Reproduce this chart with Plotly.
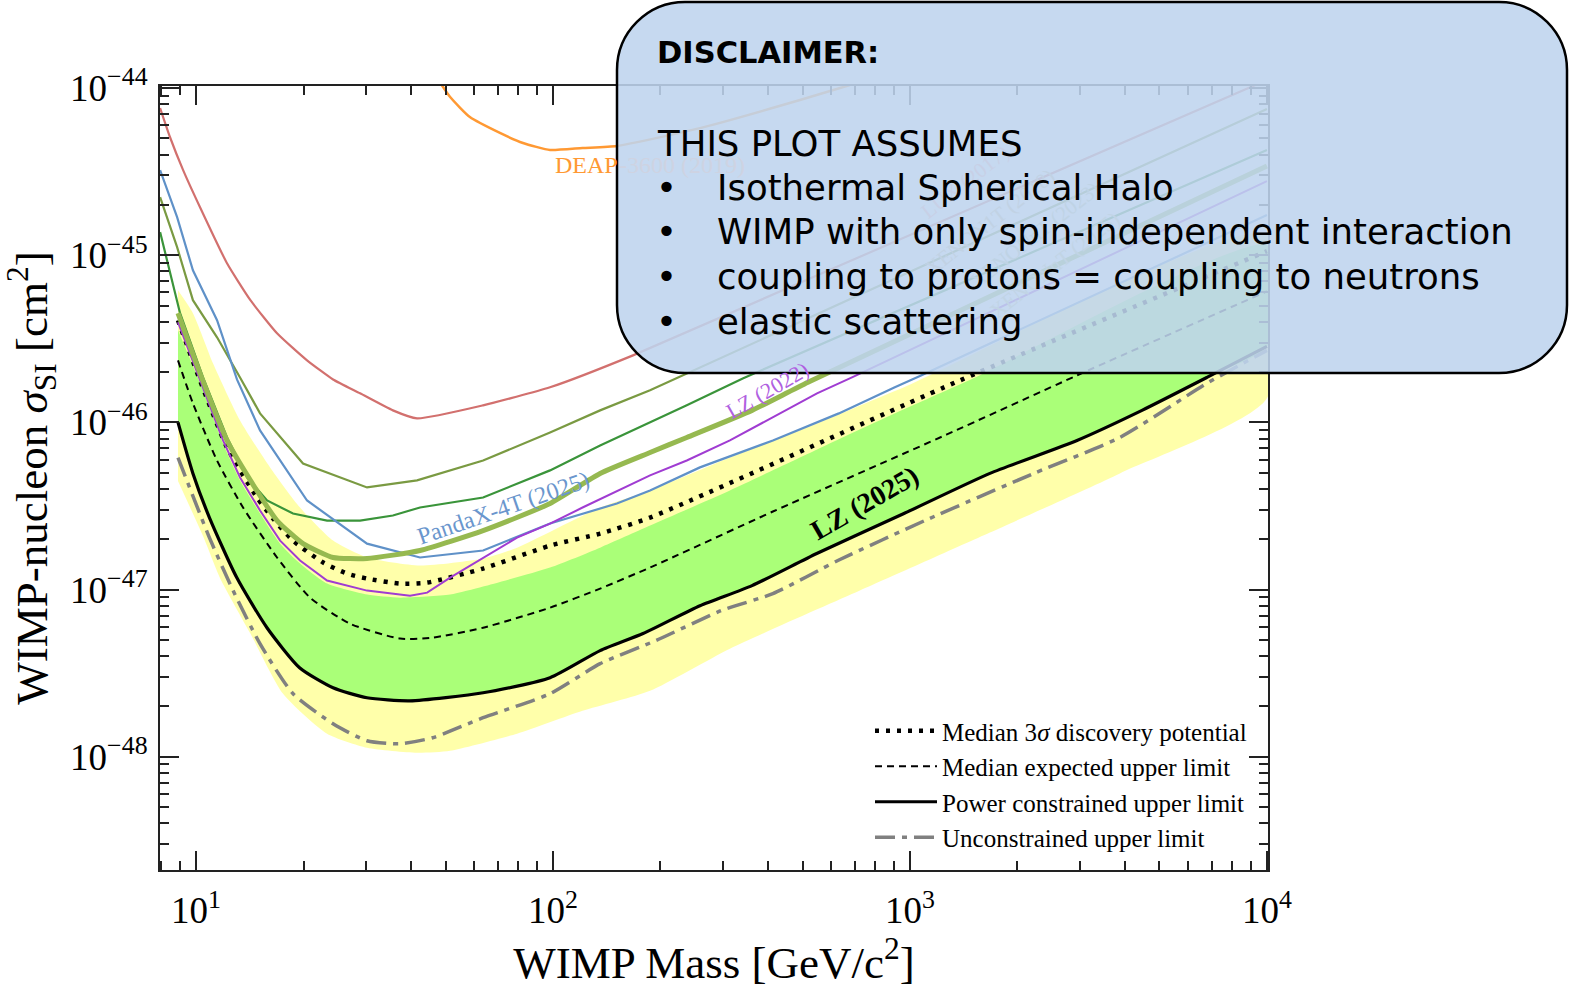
import numpy as np
import plotly.graph_objects as go

# ---------------- data (WIMP mass in GeV/c^2, cross section as log10(sigma/cm^2)) -------------
# LZ (2025) power constrained upper limit (solid black)
lz25_mass = [8.9, 9.8, 10.9, 13.0, 15.8, 19.5, 24.2, 30.1, 39.7, 63.7, 98.1, 135.5, 178.7, 258, 361, 548,
             962, 1675, 2937, 4467, 6792, 10000]
lz25_logsig = [-46.000, -46.305, -46.569, -46.928, -47.228, -47.467, -47.587, -47.647, -47.665, -47.617,
               -47.527, -47.365, -47.263, -47.096, -46.976, -46.784, -46.545, -46.305, -46.108, -45.928,
               -45.731, -45.545]

# LZ (2025) unconstrained upper limit (grey dash-dot)
unc_mass = [8.9, 10.9, 12.7, 15.1, 18.7, 24.2, 30.1, 37.3, 46.0, 63.7, 98.1, 135.5, 194, 295.6, 413, 628,
            1101, 2223, 3873, 6792, 10000]
unc_logsig = [-46.210, -46.689, -47.006, -47.323, -47.623, -47.802, -47.904, -47.922, -47.886, -47.766,
              -47.623, -47.443, -47.305, -47.126, -47.024, -46.826, -46.587, -46.305, -46.090, -45.766,
              -45.569]

# median expected upper limit (dashed)
med_mass = [8.9, 9.8, 11.45, 13.54, 16.86, 20.86, 27.0, 37.3, 46.0, 63.7, 98.1, 135.5, 187, 413, 1269,
            2937, 10000]
med_logsig = [-45.629, -45.886, -46.228, -46.509, -46.808, -47.048, -47.204, -47.293, -47.287, -47.228,
              -47.108, -46.994, -46.868, -46.533, -46.072, -45.719, -45.216]

# median 3 sigma discovery potential (dotted)
disc_mass = [8.9, 10.26, 12.21, 14.82, 16.43, 18.69, 22.69, 26.49, 30.13, 37.3, 44.4, 63.7, 98.1, 135.5,
             187, 1380, 10000]
disc_logsig = [-45.389, -45.749, -46.150, -46.449, -46.575, -46.707, -46.838, -46.904, -46.934, -46.964,
               -46.958, -46.874, -46.737, -46.665, -46.569, -45.749, -44.976]

# +1 sigma edge of the green band (lower edge = power constrained limit)
g1_mass = [8.9, 10.46, 11.9, 13.28, 15.11, 17.2, 19.56, 23.3, 30.13, 37.3, 51.5, 63.7, 98.1, 135.5, 187,
           313, 549, 962, 1501, 10000]
g1_logsig = [-45.449, -45.808, -46.126, -46.347, -46.545, -46.725, -46.844, -46.964, -47.030, -47.048,
             -47.030, -46.982, -46.868, -46.749, -46.617, -46.407, -46.162, -45.922, -45.737, -44.940]

# yellow (2 sigma) band edges
y2_up_mass = [8.9, 9.8, 11.16, 13.28, 16.12, 19.56, 24.2, 30.13, 42.4, 63.7, 79.3, 135.5, 187, 313, 549,
              962, 10000]
y2_up_logsig = [-45.210, -45.347, -45.647, -45.988, -46.269, -46.509, -46.707, -46.808, -46.856, -46.814,
                -46.749, -46.509, -46.407, -46.210, -46.006, -45.790, -44.874]
y2_lo_mass = [8.9, 10.46, 11.67, 14.2, 17.53, 23.28, 30.13, 41.6, 51.5, 79.3, 121, 187, 313, 724, 1675,
              3873, 10000]
y2_lo_logsig = [-46.350, -46.680, -46.930, -47.263, -47.623, -47.862, -47.946, -47.976, -47.964, -47.862,
                -47.725, -47.605, -47.353, -47.006, -46.659, -46.305, -45.856]

# other experiments
deap_mass = [47.0, 51.5, 58.5, 71.0, 82.4, 98.1, 121, 151, 258, 492, 679]
deap_logsig = [-43.930, -44.054, -44.174, -44.269, -44.329, -44.371, -44.359, -44.347, -44.240, -44.072,
               -43.982]

lux_mass = [7.93, 8.45, 9.2, 10.26, 12.21, 14.2, 16.86, 20.46, 24.2, 28.8, 35.6, 41.6, 63.7, 98.1, 167.5,
            10000]
lux_logsig = [-44.120, -44.293, -44.491, -44.713, -45.048, -45.269, -45.467, -45.629, -45.743, -45.826,
              -45.928, -45.976, -45.898, -45.790, -45.599, -43.952]

pandax_mass = [7.93, 8.85, 9.8, 11.45, 13.02, 15.11, 20.46, 30.13, 42.4, 63.7, 98.1, 151, 187, 258, 413,
               632, 907, 1074, 10000]
pandax_logsig = [-44.491, -44.772, -45.090, -45.389, -45.743, -46.048, -46.467, -46.725, -46.808, -46.766,
                 -46.605, -46.485, -46.407, -46.269, -46.108, -45.946, -45.790, -45.719, -44.760]

xnt23_mass = [7.93, 8.45, 9.02, 10.46, 12.21, 13.9, 15.81, 18.69, 23.28, 28.8, 35.6, 42.4, 63.7, 98.1,
              135.5, 237, 340, 10000]
xnt23_logsig = [-44.862, -45.108, -45.347, -45.731, -46.090, -46.329, -46.467, -46.545, -46.587, -46.587,
                -46.557, -46.509, -46.449, -46.287, -46.138, -45.898, -45.737, -44.371]

x1t_mass = [7.93, 8.85, 9.8, 11.45, 13.28, 15.11, 19.94, 30.13, 41.6, 63.7, 98.1, 135.5, 187, 10000]
x1t_logsig = [-44.653, -44.952, -45.269, -45.491, -45.731, -45.946, -46.246, -46.389, -46.347, -46.228,
              -46.060, -45.928, -45.808, -44.126]

lz22_mass = [8.9, 10.46, 11.9, 13.28, 15.11, 17.2, 19.56, 23.28, 30.13, 39.76, 44.4, 51.5, 63.7, 79.3,
             98.1, 121, 187, 237, 313, 413, 549, 688, 10000]
lz22_logsig = [-45.401, -45.790, -46.108, -46.329, -46.527, -46.707, -46.826, -46.946, -47.006, -47.036,
               -47.018, -46.928, -46.808, -46.689, -46.605, -46.509, -46.317, -46.228, -46.108, -45.970,
               -45.826, -45.731, -44.557]

xnt25_mass = [8.9, 10.26, 12.21, 14.2, 16.86, 19.94, 24.2, 30.13, 42.4, 63.7, 98.1, 135.5, 187, 237, 361,
              518, 10000]
xnt25_logsig = [-45.347, -45.707, -46.108, -46.347, -46.587, -46.725, -46.808, -46.814, -46.766, -46.647,
                -46.485, -46.305, -46.180, -46.090, -45.928, -45.760, -44.467]

x_tickvals = [10, 100, 1000, 10000]
x_ticktext = ["10<sup>1</sup>", "10<sup>2</sup>", "10<sup>3</sup>", "10<sup>4</sup>"]
y_tickvals = [1e-48, 1e-47, 1e-46, 1e-45, 1e-44]
y_ticktext = ["10<sup>\u221248</sup>", "10<sup>\u221247</sup>", "10<sup>\u221246</sup>",
              "10<sup>\u221245</sup>", "10<sup>\u221244</sup>"]

legend_labels = ["Median 3<i>\u03c3</i> discovery potential", "Median expected upper limit",
                 "Power constrained upper limit", "Unconstrained upper limit"]

disclaimer_title = "DISCLAIMER:"
disclaimer_head = "THIS PLOT ASSUMES"
disclaimer_items = ["Isothermal Spherical Halo",
                    "WIMP with only spin-independent interaction",
                    "coupling to protons = coupling to neutrons",
                    "elastic scattering"]

# ---------------- helpers ----------------
def sig(a):
    return [10 ** v for v in a]

SERIF = "Liberation Serif"
fig = go.Figure()

# bands
fig.add_trace(go.Scatter(x=y2_up_mass + y2_lo_mass[::-1], y=sig(y2_up_logsig + y2_lo_logsig[::-1]),
                         mode="lines", fill="toself", fillcolor="rgb(255,255,170)",
                         line=dict(width=0, shape="spline", smoothing=0.6), showlegend=False, hoverinfo="skip"))
fig.add_trace(go.Scatter(x=g1_mass + lz25_mass[::-1], y=sig(g1_logsig + lz25_logsig[::-1]),
                         mode="lines", fill="toself", fillcolor="rgb(170,255,120)",
                         line=dict(width=0, shape="spline", smoothing=0.6), showlegend=False, hoverinfo="skip"))

# LZ 2025 lines
fig.add_trace(go.Scatter(x=disc_mass, y=sig(disc_logsig), mode="lines", name=legend_labels[0], legendrank=1,
                         line=dict(color="black", width=4.5, dash="4px,7px", shape="spline", smoothing=0.6)))
fig.add_trace(go.Scatter(x=med_mass, y=sig(med_logsig), mode="lines", name=legend_labels[1], legendrank=2,
                         line=dict(color="black", width=2, dash="7px,5px", shape="spline", smoothing=0.6)))
fig.add_trace(go.Scatter(x=unc_mass, y=sig(unc_logsig), mode="lines", name=legend_labels[3], legendrank=4,
                         line=dict(color="rgb(128,128,128)", width=3.5, dash="20px,7px,5px,7px",
                                   shape="spline", smoothing=0.6)))
fig.add_trace(go.Scatter(x=lz25_mass, y=sig(lz25_logsig), mode="lines", name=legend_labels[2], legendrank=3,
                         line=dict(color="black", width=3.2, shape="spline", smoothing=0.6)))

# other experiments
others = [
    (deap_mass, deap_logsig, "rgb(255,153,51)", 2.5, "spline"),
    (lux_mass, lux_logsig, "rgb(210,112,110)", 2.2, "spline"),
    (x1t_mass, x1t_logsig, "rgb(122,154,66)", 2.2, "linear"),
    (xnt23_mass, xnt23_logsig, "rgb(58,148,58)", 2.2, "linear"),
    (pandax_mass, pandax_logsig, "rgb(95,145,200)", 2.2, "linear"),
    (lz22_mass, lz22_logsig, "rgb(160,60,210)", 2.0, "linear"),
    (xnt25_mass, xnt25_logsig, "rgb(150,185,80)", 5.0, "spline"),
]
for m, s, c, w, sh in others:
    fig.add_trace(go.Scatter(x=m, y=sig(s), mode="lines", showlegend=False, hoverinfo="skip",
                             line=dict(color=c, width=w, shape=sh, smoothing=0.5)))

# ---------------- layout ----------------
L, R, T, B = 160, 1268, 86, 870
W, H = R - L, B - T


def pxx(x):
    return (x - L) / W


def pxy(y):
    return (B - y) / H


axis_common = dict(type="log", showgrid=False, zeroline=False, showline=True, linecolor="#222",
                   linewidth=2, mirror="allticks", ticks="inside", ticklen=19, tickwidth=2, tickcolor="#222",
                   tickmode="array", tickfont=dict(family=SERIF, size=37, color="black"))

minor_x = [k * 10 ** d for d in range(0, 4) for k in range(2, 10)]
minor_y = [k * 10.0 ** d for d in range(-49, -44) for k in range(2, 10)]

fig.update_layout(
    width=1575, height=995,
    margin=dict(l=L, r=1575 - R, t=T, b=995 - B, autoexpand=False),
    paper_bgcolor="white", plot_bgcolor="white",
    xaxis=dict(axis_common, range=[0.899, 4.003], tickvals=x_tickvals, ticktext=x_ticktext,
               ticklabelstandoff=7,
               minor=dict(ticks="inside", ticklen=9, tickwidth=1.5, tickcolor="#222", tickmode="array",
                          tickvals=minor_x, showgrid=False),
               title=dict(text="WIMP Mass [GeV/c<sup>2</sup>]", font=dict(family=SERIF, size=45, color="black"),
                          standoff=12)),
    yaxis=dict(axis_common, range=[-48.677, -43.988], tickvals=y_tickvals, ticktext=y_ticktext,
               ticklabelstandoff=3,
               minor=dict(ticks="inside", ticklen=9, tickwidth=1.5, tickcolor="#222", tickmode="array",
                          tickvals=minor_y, showgrid=False),
               title=dict(text="WIMP-nucleon <i>\u03c3</i><sub>SI</sub> [cm<sup>2</sup>]",
                          font=dict(family=SERIF, size=45, color="black"), standoff=10)),
    legend=dict(x=pxx(870), y=pxy(708), xanchor="left", yanchor="top", bgcolor="rgba(0,0,0,0)",
                font=dict(family=SERIF, size=25, color="black"), itemwidth=62, traceorder="normal"),
    showlegend=True,
)

# ---------------- labels on the plot ----------------
ann = []
ann.append(dict(x=1.860, y=-46.509, xref="x", yref="y", text="PandaX-4T (2025)", textangle=-19,
                showarrow=False, font=dict(family=SERIF, size=24, color="rgb(106,150,205)")))
ann.append(dict(x=2.874, y=-46.479, xref="x", yref="y", text="<b>LZ (2025)</b>", textangle=-30,
                showarrow=False, font=dict(family=SERIF, size=28, color="black")))
ann.append(dict(x=2.0, y=-44.461, xref="x", yref="y", text="DEAP", xanchor="left",
                showarrow=False, font=dict(family=SERIF, size=24, color="rgb(255,153,51)")))
# labels that sit underneath the translucent box (shown faded)
ann.append(dict(x=2.179, y=-44.461, xref="x", yref="y", text="-3600 (2019)", xanchor="left",
                showarrow=False, font=dict(family=SERIF, size=24, color="rgb(206,211,226)")))
ann.append(dict(x=2.600, y=-45.810, xref="x", yref="y", text="LZ (2022)", textangle=-30,
                showarrow=False, font=dict(family=SERIF, size=22, color="rgb(176,96,224)")))
for lx, ly, txt, col in [(3.154, -44.563, "LUX (2017)", "rgb(200,208,230)"),
                         (3.224, -44.802, "XENON1T (2018)", "rgb(193,210,228)"),
                         (3.350, -44.880, "XENONnT (2023)", "rgb(191,211,229)"),
                         (3.406, -45.060, "XENONnT (2025)", "rgb(193,212,229)")]:
    ann.append(dict(x=lx, y=ly, xref="x", yref="y", text=txt, textangle=-38, showarrow=False,
                    font=dict(family=SERIF, size=21, color=col)))

# ---------------- disclaimer box ----------------
bx0, bx1, by0, by1, rad = 617, 1567, 2, 373, 68
X0, X1, Yt, Yb = pxx(bx0), pxx(bx1), pxy(by0), pxy(by1)
rx, ry = rad / W, rad / H
k = 1 - 0.5523
path = (f"M {X0+rx},{Yt} L {X1-rx},{Yt} C {X1-rx*k},{Yt} {X1},{Yt-ry*k} {X1},{Yt-ry} "
        f"L {X1},{Yb+ry} C {X1},{Yb+ry*k} {X1-rx*k},{Yb} {X1-rx},{Yb} "
        f"L {X0+rx},{Yb} C {X0+rx*k},{Yb} {X0},{Yb+ry*k} {X0},{Yb+ry} "
        f"L {X0},{Yt-ry} C {X0},{Yt-ry*k} {X0+rx*k},{Yt} {X0+rx},{Yt} Z")
fig.add_shape(type="path", path=path, xref="paper", yref="paper", layer="above",
              fillcolor="rgb(190,212,238)", opacity=0.88, line=dict(width=0))
fig.add_shape(type="path", path=path, xref="paper", yref="paper", layer="above",
              fillcolor="rgba(0,0,0,0)", line=dict(color="black", width=2.5))

SANS = "DejaVu Sans"
ann.append(dict(x=pxx(655), y=pxy(52), xref="paper", yref="paper", xanchor="left", yanchor="middle",
                text="<b>" + disclaimer_title + "</b>", showarrow=False,
                font=dict(family=SANS, size=30.5, color="black")))
ann.append(dict(x=pxx(655), y=pxy(143), xref="paper", yref="paper", xanchor="left", yanchor="middle",
                text=disclaimer_head, showarrow=False, font=dict(family=SANS, size=35.5, color="black")))
for i, item in enumerate(disclaimer_items):
    yy = pxy(187 + i * 44.7)
    ann.append(dict(x=pxx(666), y=yy, xref="paper", yref="paper", xanchor="center", yanchor="middle",
                    text="\u2022", showarrow=False, font=dict(family=SANS, size=35.5, color="black")))
    ann.append(dict(x=pxx(715), y=yy, xref="paper", yref="paper", xanchor="left", yanchor="middle",
                    text=item, showarrow=False, font=dict(family=SANS, size=35.5, color="black")))

fig.update_layout(annotations=ann)
fig.write_html("out.html", config={"displayModeBar": False},
               post_script="document.body.style.margin='0px';document.body.style.overflow='hidden';")
